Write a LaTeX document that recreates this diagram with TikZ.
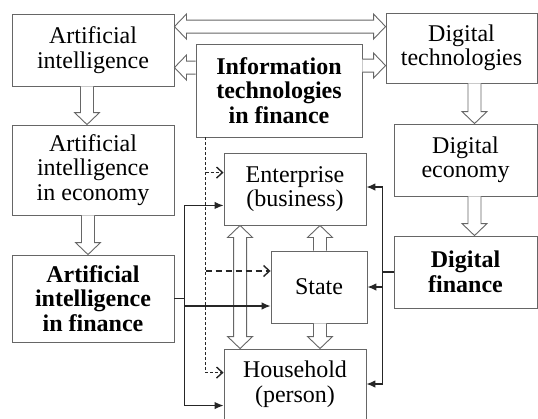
\documentclass[tikz,border=0pt]{standalone}
\usepackage{fontspec}
\setmainfont{Liberation Serif}
\usetikzlibrary{arrows.meta,calc}
% single hollow arrow from #1 to #2
\newcommand\hollowarrow[2]{%
 \draw[hol] let \p1=(#1), \p2=(#2), \n1={veclen(\x2-\x1,\y2-\y1)},
   \n2={(\x2-\x1)/\n1}, \n3={(\y2-\y1)/\n1} in
   ({\x1-6.5*\n3},{\y1+6.5*\n2})
   -- ({\x2-12*\n2-6.5*\n3},{\y2-12*\n3+6.5*\n2})
   -- ({\x2-12*\n2-12.5*\n3},{\y2-12*\n3+12.5*\n2})
   -- (\x2,\y2)
   -- ({\x2-12*\n2+12.5*\n3},{\y2-12*\n3-12.5*\n2})
   -- ({\x2-12*\n2+6.5*\n3},{\y2-12*\n3-6.5*\n2})
   -- ({\x1+6.5*\n3},{\y1-6.5*\n2});}
% double hollow arrow between #1 and #2
\newcommand\hollowdarrow[2]{%
 \draw[hol] let \p1=(#1), \p2=(#2), \n1={veclen(\x2-\x1,\y2-\y1)},
   \n2={(\x2-\x1)/\n1}, \n3={(\y2-\y1)/\n1} in
   (\x1,\y1)
   -- ({\x1+12*\n2-12.5*\n3},{\y1+12*\n3+12.5*\n2})
   -- ({\x1+12*\n2-6.5*\n3},{\y1+12*\n3+6.5*\n2})
   -- ({\x2-12*\n2-6.5*\n3},{\y2-12*\n3+6.5*\n2})
   -- ({\x2-12*\n2-12.5*\n3},{\y2-12*\n3+12.5*\n2})
   -- (\x2,\y2)
   -- ({\x2-12*\n2+12.5*\n3},{\y2-12*\n3-12.5*\n2})
   -- ({\x2-12*\n2+6.5*\n3},{\y2-12*\n3-6.5*\n2})
   -- ({\x1+12*\n2+6.5*\n3},{\y1+12*\n3-6.5*\n2})
   -- ({\x1+12*\n2+12.5*\n3},{\y1+12*\n3-12.5*\n2})
   -- cycle;}
\begin{document}
\begin{tikzpicture}[x=1pt,y=-1pt,
  box/.style={draw=black!60,line width=0.9pt,align=center,inner sep=0pt,
    font=\fontsize{24}{24.5}\selectfont},
  bbox/.style={box,font=\fontsize{24}{24.5}\selectfont\bfseries},
  hol/.style={draw=black!60,line width=0.9pt,line join=miter,fill=white},
  sol/.style={draw=black!85,line width=1.2pt},
  solarr/.style={sol,-{Latex[length=9pt,width=7.5pt]}},
  soldbl/.style={sol,{Latex[length=9pt,width=7.5pt]}-{Latex[length=9pt,width=7.5pt]}},
  dsh/.style={draw=black!85,line width=1.2pt,dash pattern=on 3pt off 2pt},
  dshlong/.style={draw=black!85,line width=1.2pt,dash pattern=on 6pt off 4pt},
  dsharr/.style={-{Straight Barb[length=6pt,width=11pt,line width=1.4pt]}}]
\useasboundingbox (0,0) rectangle (538,418);
\clip (0,0) rectangle (538,418);
\fill[white] (0,0) rectangle (538,418);

\node[box,minimum width=162pt,minimum height=72pt] (ai) at (93,50) {Artificial\\intelligence};
\node[bbox,minimum width=166pt,minimum height=93pt] (it) at (279,90.5) {Information\\technologies\\in finance};
\node[box,minimum width=151pt,minimum height=70pt] (dt) at (461.5,48) {Digital\\technologies};
\node[box,minimum width=162pt,minimum height=90pt] (aie) at (93,170) {Artificial\\intelligence\\in economy};
\node[bbox,minimum width=162pt,minimum height=87pt] (aif) at (93,298.5) {Artificial\\intelligence\\in finance};
\node[box,minimum width=143pt,minimum height=72pt] (de) at (465.5,160) {Digital\\economy};
\node[bbox,minimum width=143pt,minimum height=72pt] (df) at (465.5,272) {Digital\\finance};
\node[box,minimum width=142pt,minimum height=72pt] (ent) at (295,189) {Enterprise\\(business)};
\node[box,minimum width=96pt,minimum height=72pt] (st) at (319,287) {State};
\node[box,minimum width=142pt,minimum height=70pt] (hh) at (295,384) {Household\\(person)};

% hollow arrows
\coordinate (h1) at ($(ai.north east)+(0,13)$);
\hollowdarrow{h1}{h1 -| dt.west}
\coordinate (h2) at ($(it.north west)+(0,24)$);
\hollowarrow{h2}{h2 -| ai.east}
\coordinate (h3) at ($(it.north east)+(0,22)$);
\hollowarrow{h3}{h3 -| dt.west}
\coordinate (v1) at ($(ai.south)+(-6,0)$);
\hollowarrow{v1}{v1 |- aie.north}
\coordinate (v2) at ($(aie.south)+(-5,0)$);
\hollowarrow{v2}{v2 |- aif.north}
\coordinate (v3) at ($(dt.south)+(13,0)$);
\hollowarrow{v3}{v3 |- de.north}
\coordinate (v4) at ($(de.south)+(9,0)$);
\hollowarrow{v4}{v4 |- df.north}
\coordinate (v5) at ($(ent.south west)+(16.5,0)$);
\hollowdarrow{v5}{v5 |- hh.north}
\coordinate (v6) at ($(st.north)+(1,0)$);
\hollowarrow{v6}{v6 |- ent.south}
\coordinate (v7) at ($(st.south)+(1,0)$);
\hollowarrow{v7}{v7 |- hh.north}

% solid connectors, left
\coordinate (j1) at ($(aif.east)+(10,0)$);
\coordinate (e1) at ($(ent.south west)+(0,-20)$);
\coordinate (e2) at ($(st.west)+(0,19)$);
\coordinate (e3) at ($(hh.north west)+(0,57)$);
\draw[sol] (aif.east) -- (j1);
\draw[soldbl] (e1) -- (e1 -| j1) -- (e3 -| j1) -- (e3);
\draw[solarr] (e2 -| j1) -- (e2);

% solid connectors, right
\coordinate (j2) at ($(df.west)+(-11,0)$);
\coordinate (r1) at ($(ent.east)+(0,-2)$);
\draw[sol] (df.west) -- (j2);
\draw[soldbl] (r1) -- (r1 -| j2) -- (hh.east -| j2) -- (hh.east);
\draw[solarr] (st.east -| j2) -- (st.east);

% dashed connectors
\coordinate (d0) at ($(it.south west)+(10,0)$);
\coordinate (ed) at ($(ent.north west)+(0,20)$);
\coordinate (sd) at ($(st.west)+(0,-16)$);
\coordinate (hd) at ($(hh.north west)+(0,24)$);
\draw[dsh,dsharr] (d0) -- (d0 |- hd) -- (hd);
\draw[dsh,dsharr] (d0 |- ed) -- (ed);
\draw[dshlong,dsharr] (d0 |- sd) -- (sd);
\end{tikzpicture}
\end{document}
